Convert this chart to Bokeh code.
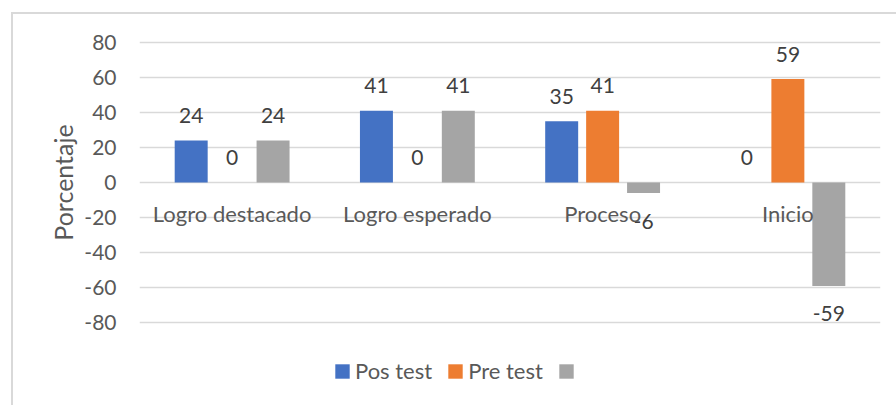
from bokeh.plotting import figure
from bokeh.layouts import column
from bokeh.models import ColumnDataSource, Range1d, FixedTicker, Legend, LegendItem
from bokeh.core.properties import value
from bokeh.embed import file_html
from bokeh.resources import INLINE

categories = ["Logro destacado", "Logro esperado", "Proceso", "Inicio"]
series_names = ["Pos test", "Pre test", " "]
pos_test = [24, 41, 35, 0]
pre_test = [0, 0, 41, 59]
diff = [24, 41, -6, -59]
colors = ["#4472C4", "#ED7D31", "#A5A5A5"]
y_ticks = [-80, -60, -40, -20, 0, 20, 40, 60, 80]

FONT = "Lato"
TXT = "#595959"
NUM_FS = "21px"
WORD_FS = "22px"

p = figure(width=883, height=319, output_backend="svg", toolbar_location=None,
           x_range=Range1d(0, len(categories)), y_range=Range1d(-85, 85),
           x_axis_location=None,
           min_border_left=126, min_border_right=16, min_border_top=19,
           min_border_bottom=2, outline_line_color=None)

p.xgrid.visible = False
p.ygrid.grid_line_color = "#d9d9d9"
p.ygrid.grid_line_width = 1.5
p.yaxis.ticker = FixedTicker(ticks=y_ticks)
p.yaxis.major_label_overrides = {t: str(t) for t in y_ticks}
p.yaxis.axis_line_color = None
p.yaxis.major_tick_line_color = None
p.yaxis.minor_tick_line_color = None
p.yaxis.major_label_text_font = FONT
p.yaxis.major_label_text_font_size = NUM_FS
p.yaxis.major_label_text_color = TXT
p.yaxis.major_label_standoff = 17
p.yaxis.axis_label = "Porcentaje"
p.yaxis.axis_label_text_font = FONT
p.yaxis.axis_label_text_font_size = "25px"
p.yaxis.axis_label_text_font_style = "normal"
p.yaxis.axis_label_text_color = TXT
p.yaxis.axis_label_standoff = 3

offsets = [-0.221, 0.0, 0.221]
width = 0.178
for vals, off, col in zip([pos_test, pre_test, diff], offsets, colors):
    xs = [i + 0.5 + off for i in range(len(categories))]
    src = ColumnDataSource(dict(x=xs, top=vals, lab=[str(v) for v in vals],
                                yoff=[-25 if v >= 0 else 28 for v in vals]))
    p.vbar(x="x", top="top", bottom=0, width=width, source=src,
           fill_color=col, line_color=None)
    p.text(x="x", y="top", text="lab", y_offset="yoff", source=src,
           text_align="center", text_baseline="middle", text_font=value(FONT),
           text_font_size=NUM_FS, text_color="#404040")

cat_src = ColumnDataSource(dict(x=[i + 0.5 for i in range(len(categories))],
                                y=[0] * len(categories), t=categories))
p.text(x="x", y="y", text="t", source=cat_src, y_offset=31, text_align="center",
       text_baseline="middle", text_font=value(FONT), text_font_size=WORD_FS,
       text_color=TXT)

# legend strip below the chart
lf = figure(width=883, height=72, output_backend="svg", toolbar_location=None,
            x_range=Range1d(0, 1), y_range=Range1d(0, 1),
            x_axis_location=None, y_axis_location=None, outline_line_color=None,
            min_border_left=126, min_border_right=16, min_border_top=0, min_border_bottom=0)
lf.xgrid.visible = False
lf.ygrid.visible = False
# zero-height bars: only used as legend swatches
swatch = ColumnDataSource(dict(x=[0.5], top=[0]))
leg_renderers = [lf.vbar(x="x", top="top", bottom=0, width=0.01, source=swatch,
                         fill_color=c, line_color=None) for c in colors]
legend = Legend(items=[LegendItem(label=n, renderers=[r]) for n, r in zip(series_names, leg_renderers)],
                orientation="horizontal", location=(194, 21),
                label_text_font=FONT, label_text_font_size=WORD_FS, label_text_color=TXT,
                glyph_width=18, glyph_height=18, spacing=14, label_standoff=4,
                border_line_color=None, background_fill_alpha=0, padding=0, margin=0)
lf.add_layout(legend)

layout = column(p, lf, spacing=0, margin=(12, 0, 0, 11),
                styles={"border-left": "2px solid #d9d9d9", "border-top": "2px solid #d9d9d9"})
open("out.html", "w").write(file_html(layout, INLINE))
